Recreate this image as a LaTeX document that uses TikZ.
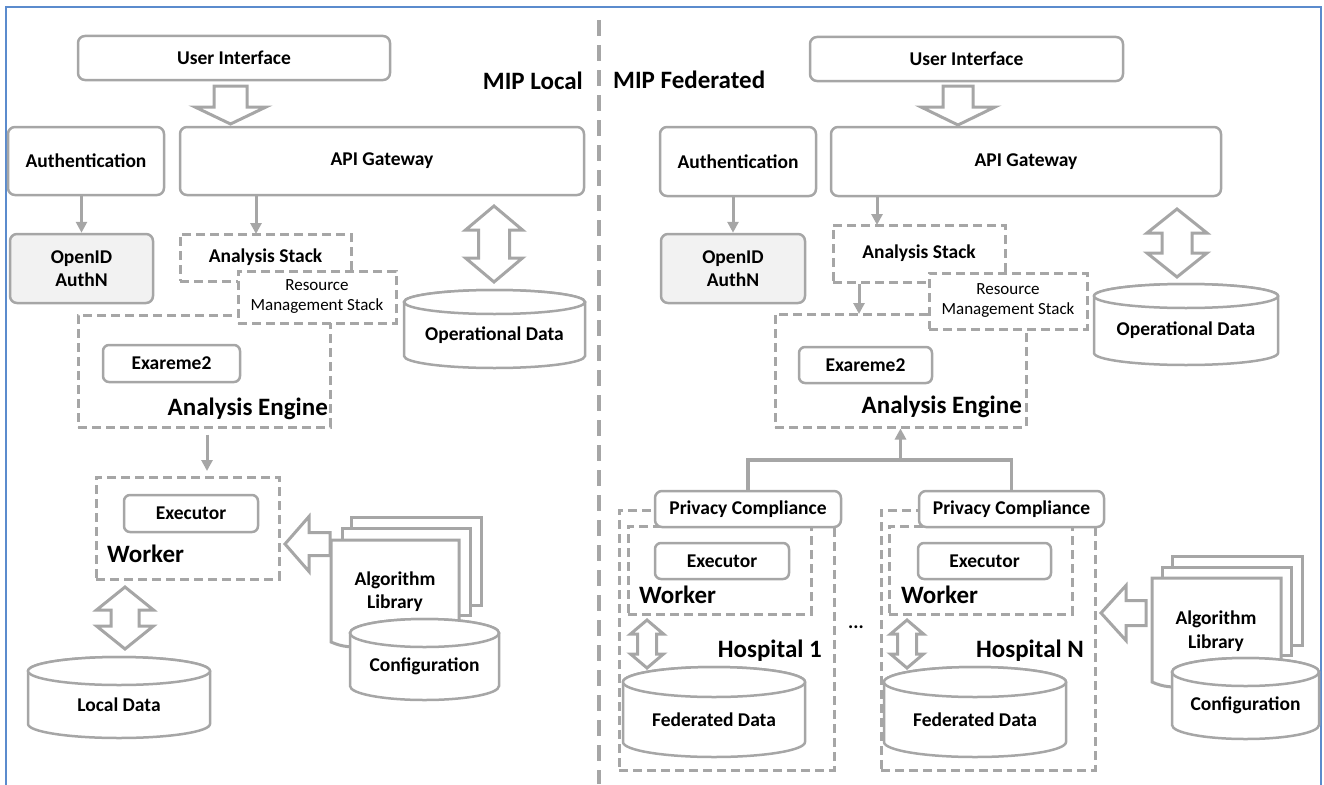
\documentclass[tikz,border=0pt]{standalone}
\usepackage{fontspec}
\setmainfont{Carlito}
\usetikzlibrary{arrows.meta}

\definecolor{linegray}{RGB}{166,166,166}
\definecolor{boxfill}{RGB}{242,242,242}
\definecolor{frameblue}{RGB}{91,139,205}

\newcommand{\lblfont}{\bfseries\fontsize{19.5}{23.5}\selectfont}
\newcommand{\bigfont}{\bfseries\fontsize{25}{30}\selectfont}

% database drum: name, centre x, top y, half width, height, ellipse radius, label
\newcommand{\dbcyl}[7]{%
  \draw[cyl] (#2-#4,#3+#6) -- (#2-#4,#3+#5-#6)
    arc[start angle=180,end angle=360,x radius=#4pt,y radius=#6pt]
    -- (#2+#4,#3+#6)
    arc[start angle=0,end angle=180,x radius=#4pt,y radius=#6pt] -- cycle;
  \draw[cyl] (#2,#3+#6) ellipse[x radius=#4pt,y radius=#6pt];
  \node[lbl] (#1) at (#2,#3+#6+0.5*#5-0.5*#6) {#7};}

% hollow up-down arrow: centre x, top, bottom, head half width, shaft half width, head length
\newcommand{\updown}[6]{%
  \draw[hollow] (#1,#2) -- (#1+#4,#2+#6) -- (#1+#5,#2+#6) -- (#1+#5,#3-#6)
    -- (#1+#4,#3-#6) -- (#1,#3) -- (#1-#4,#3-#6) -- (#1-#5,#3-#6)
    -- (#1-#5,#2+#6) -- (#1-#4,#2+#6) -- cycle;}

\tikzset{
  wh/.style 2 args={minimum width=#1pt, minimum height=#2pt},
  box/.style={draw=linegray, line width=2.5pt, rounded corners=7pt, fill=white,
    font=\lblfont, align=center, inner sep=0pt},
  gbox/.style={box, fill=boxfill},
  dbox/.style={draw=linegray, line width=3pt, dash pattern=on 9pt off 5pt,
    inner sep=0pt, font=\lblfont, align=center},
  lbl/.style={font=\lblfont, align=center, inner sep=0pt},
  biglbl/.style={font=\bigfont, inner sep=0pt},
  arr/.style={draw=linegray, line width=3pt, -{Triangle[length=11pt,width=11pt]}},
  link/.style={draw=linegray, line width=3.5pt},
  hollow/.style={draw=linegray, line width=3pt, fill=white, line join=miter},
  cyl/.style={draw=linegray, line width=2.5pt, fill=white},
  page/.style={draw=linegray, line width=3pt, fill=white},
  sep/.style={draw=linegray, line width=3.5pt, dash pattern=on 16pt off 9pt},
  frame/.style={draw=frameblue, line width=2pt}
}

\begin{document}
\begin{tikzpicture}[x=1pt,y=-1pt]
\useasboundingbox (0,0) rectangle (1324,784);
\draw[frame] (6,7) rectangle (1321,800);
\draw[sep] (599,20) -- (599,784);

% ---------------- MIP Local ----------------
\node[biglbl, anchor=base east] (titleL) at (583,89) {MIP Local};
\node[box, wh={312}{44}] (uiL) at (234,58) {User Interface};
\node[box, wh={156}{68}] (authL) at (86,161) {Authentication};
\node[box, wh={404}{68}] (apiL) at (382,161) {API Gateway};
\node[gbox, wh={143}{69}] (oidL) at (81.5,268.5) {OpenID\\AuthN};
\draw[hollow] (214,86) -- (247,86) -- (247,107) -- (266,107) -- (230.5,124)
  -- (195,107) -- (214,107) -- cycle;

\node[dbox, wh={171}{47}] (asL) at (265.5,257.5) {Analysis Stack};
\node[dbox, wh={252}{112}] (aeL) at (204,371) {};
\node[dbox, fill=white, wh={158}{52}, font=\fontsize{17}{20}\selectfont] (rmsL)
  at (317,297) {Resource\\Management Stack};
\node[box, rounded corners=6pt, wh={137}{37}] (exaL) at (171.5,363.5) {Exareme2};
\node[biglbl, anchor=base east] (aelblL) at (328,415) {Analysis Engine};

\coordinate (asinL) at (256,234);
\draw[arr] (authL.south -| oidL.north) -- (oidL.north);
\draw[arr] (apiL.south -| asinL) -- (asinL);

\updown{494}{206}{282}{28.5}{15.5}{24}
\dbcyl{opL}{494.5}{290}{90.5}{78}{12}{Operational Data}

\node[dbox, wh={183}{102}] (wkL) at (187.5,528) {};
\node[box, rounded corners=6pt, wh={134}{37}] (exeL) at (191,513.5) {Executor};
\node[biglbl, anchor=base west] (wklblL) at (107,562) {Worker};
\coordinate (wkinL) at (207,477);
\draw[arr, shorten <=6pt, shorten >=6pt] (aeL.south -| wkinL) -- (wkinL);

\draw[page] (351,517) rectangle (481,605);
\draw[page] (342,528) rectangle (470,615);
\draw[page] (331,540) -- (459,540) -- (459,630) .. controls (420,615) and (375,662) .. (331,642) -- cycle;
\node[lbl] (algL) at (395,591.5) {Algorithm\\Library};
\draw[hollow] (330,532.5) -- (309,532.5) -- (309,516.5) -- (285,544)
  -- (309,571.5) -- (309,555.5) -- (330,555.5) -- cycle;
\dbcyl{cfgL}{424.5}{619}{74.5}{81}{14}{Configuration}

\updown{125}{587}{649}{28.5}{14}{23}
\dbcyl{localL}{119}{657}{91}{81}{14}{Local Data}

% ---------------- MIP Federated ----------------
\node[biglbl, anchor=base west] (titleR) at (613,88) {MIP Federated};
\node[box, wh={313}{44}] (uiR) at (966.5,59) {User Interface};
\node[box, wh={156}{69}] (authR) at (738,161.5) {Authentication};
\node[box, wh={390}{69}] (apiR) at (1026,161.5) {API Gateway};
\node[gbox, wh={144}{69}] (oidR) at (733,268.5) {OpenID\\AuthN};
\draw[hollow] (943,86) -- (973,86) -- (973,107) -- (995,107) -- (958,125)
  -- (921,107) -- (943,107) -- cycle;

\node[dbox, wh={172}{57}] (asR) at (919,253.5) {Analysis Stack};
\node[dbox, wh={251}{113}] (aeR) at (900.5,370.5) {};
\node[dbox, fill=white, wh={158}{56}, font=\fontsize{17}{20}\selectfont] (rmsR)
  at (1008,301) {Resource\\Management Stack};
\node[box, rounded corners=6pt, wh={133}{36}] (exaR) at (865.5,365) {Exareme2};
\node[biglbl, anchor=base east] (aelblR) at (1022,413) {Analysis Engine};

\coordinate (asinR) at (877,225);
\coordinate (aeinR) at (859,314);
\draw[arr] (authR.south -| oidR.north) -- (oidR.north);
\draw[arr] (apiR.south -| asinR) -- (asinR);
\draw[arr] (asR.south -| aeinR) -- (aeinR);

\updown{1177}{209}{277}{30}{15}{24}
\dbcyl{opR}{1186}{284}{92}{81}{12}{Operational Data}

% hospitals
\node[dbox, wh={215}{260}] (hospA) at (726.5,640) {};
\node[dbox, wh={214}{260}] (hospB) at (988,640) {};
\node[dbox, wh={183}{88}] (wkA) at (719.5,570) {};
\node[dbox, wh={183}{88}] (wkB) at (980.5,570) {};
\node[box, wh={186}{36}] (pcA) at (748,509) {Privacy Compliance};
\node[box, wh={185}{36}] (pcB) at (1011.5,509) {Privacy Compliance};
\node[box, rounded corners=6pt, wh={134}{36}] (exeA) at (722,561) {Executor};
\node[box, rounded corners=6pt, wh={133}{36}] (exeB) at (984.5,561) {Executor};
\node[biglbl, anchor=base west] (wklblA) at (639,603) {Worker};
\node[biglbl, anchor=base west] (wklblB) at (901,603) {Worker};
\node[biglbl, anchor=base east] (hosplblA) at (822,657) {Hospital 1};
\node[biglbl, anchor=base east] (hosplblB) at (1084,657) {Hospital N};
\node[lbl, anchor=base] (dots) at (856,628) {...};

\coordinate (join) at (900.5,460);
\draw[link] (pcA.north) |- (join) -| (pcB.north);
\draw[arr] (join) -- (aeR.south);

\updown{647}{620}{668}{16.5}{9.5}{14}
\updown{907}{620}{668}{16.5}{9.5}{14}
\dbcyl{fedA}{714}{667}{91}{90}{15}{Federated Data}
\dbcyl{fedB}{975}{667}{91}{90}{15}{Federated Data}

\draw[page] (1172,556) rectangle (1302,645);
\draw[page] (1162,567) rectangle (1291,655);
\draw[page] (1152,578) -- (1281,578) -- (1281,670) .. controls (1240,655) and (1195,702) .. (1152,682) -- cycle;
\node[lbl] (algR) at (1216,631) {Algorithm\\Library};
\draw[hollow] (1146,600.5) -- (1126,600.5) -- (1126,585.5) -- (1101,613)
  -- (1126,640.5) -- (1126,625.5) -- (1146,625.5) -- cycle;
\dbcyl{cfgR}{1245.5}{658}{73.5}{81}{14}{Configuration}
\end{tikzpicture}
\end{document}
